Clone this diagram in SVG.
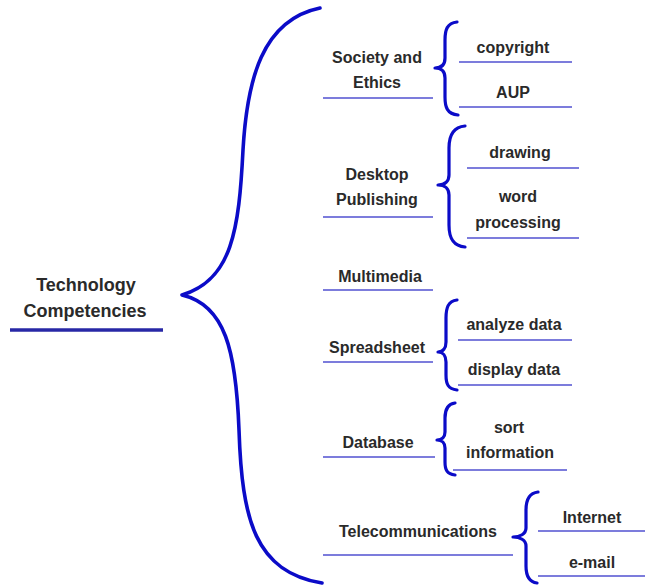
<svg xmlns="http://www.w3.org/2000/svg" width="645" height="588" viewBox="0 0 645 588">
<style>
text{font-family:"Liberation Sans","DejaVu Sans",Arial,sans-serif;font-weight:bold;font-size:16px;fill:#2a2a2a;text-anchor:middle}
.title{font-size:18px}
.brace{fill:none;stroke:#0b0bc8;stroke-width:3.2;stroke-linecap:round;stroke-linejoin:round}
.main{stroke-width:3.6}
.ul{stroke:#7c7cdc;stroke-width:1.8}
.ulm{stroke:#2828a6;stroke-width:3.5}
</style>
<rect width="645" height="588" fill="#fff"/>
<g id="connectors">
<path class="brace main" d="M320,8 C262,20 247,80 243,150 C239,230 232,280 182,295 C225,305 236,350 239,430 C242,520 255,572 322,583"/>
<path class="brace" d="M457,22 C447,23 445,30 445,40 L445,58 C445,64 442,68 435,68 C442,68 445,72 445,78 L445,97 C445,107 447,114 458,115"/>
<path class="brace" d="M465,126 C453,127 449,136 449,148 L449,175 C449,181 445,185 438,185 C445,185 449,189 449,195 L449,225 C449,238 453,246 465,247"/>
<path class="brace" d="M457,300 C448,301 446,308 446,318 L446,342 C446,348 443,352 438,352 C443,352 446,356 446,362 L446,375 C446,384 448,389 457,390"/>
<path class="brace" d="M455,403 C447,404 445,410 445,418 L445,432 C445,437 442,440 437,440 C442,440 445,443 445,448 L445,462 C445,470 447,474 455,475"/>
<path class="brace" d="M538,492 C529,493 526,500 526,510 L526,528 C526,534 520,537 513,537 C520,537 526,540 526,546 L526,566 C526,576 529,582 537,583"/>
</g>
<g id="root">
<text class="title" x="86" y="291">Technology</text>
<text class="title" x="85" y="317">Competencies</text>
<line class="ulm" x1="10" y1="330" x2="163" y2="330"/>
</g>
<g id="society">
<text x="377" y="63">Society and</text>
<text x="377" y="88">Ethics</text>
<line class="ul" x1="323" y1="98" x2="433" y2="98"/>
</g>
<g id="copyright">
<text x="513" y="53">copyright</text>
<line class="ul" x1="459" y1="62" x2="572" y2="62"/>
</g>
<g id="aup">
<text x="513" y="98">AUP</text>
<line class="ul" x1="459" y1="107" x2="572" y2="107"/>
</g>
<g id="desktop">
<text x="377" y="180">Desktop</text>
<text x="377" y="205">Publishing</text>
<line class="ul" x1="323" y1="217" x2="433" y2="217"/>
</g>
<g id="drawing">
<text x="520" y="158">drawing</text>
<line class="ul" x1="467" y1="168" x2="579" y2="168"/>
</g>
<g id="word">
<text x="518" y="202">word</text>
<text x="518" y="228">processing</text>
<line class="ul" x1="467" y1="238" x2="579" y2="238"/>
</g>
<g id="multimedia">
<text x="380" y="282">Multimedia</text>
<line class="ul" x1="323" y1="290" x2="433" y2="290"/>
</g>
<g id="spreadsheet">
<text x="377" y="353">Spreadsheet</text>
<line class="ul" x1="323" y1="362" x2="433" y2="362"/>
</g>
<g id="analyze">
<text x="514" y="330">analyze data</text>
<line class="ul" x1="458" y1="340" x2="572" y2="340"/>
</g>
<g id="display">
<text x="514" y="375">display data</text>
<line class="ul" x1="458" y1="385" x2="572" y2="385"/>
</g>
<g id="database">
<text x="378" y="448">Database</text>
<line class="ul" x1="323" y1="457" x2="435" y2="457"/>
</g>
<g id="sort">
<text x="509" y="433">sort</text>
<text x="510" y="458">information</text>
<line class="ul" x1="453" y1="470" x2="567" y2="470"/>
</g>
<g id="telecom">
<text x="418" y="537">Telecommunications</text>
<line class="ul" x1="323" y1="555" x2="513" y2="555"/>
</g>
<g id="internet">
<text x="592" y="523">Internet</text>
<line class="ul" x1="538" y1="531" x2="645" y2="531"/>
</g>
<g id="email">
<text x="592" y="568">e-mail</text>
<line class="ul" x1="538" y1="576" x2="645" y2="576"/>
</g>
</svg>
